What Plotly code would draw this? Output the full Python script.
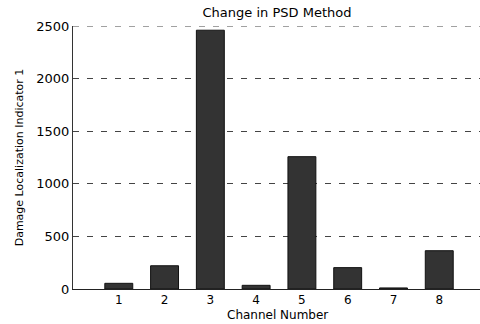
import plotly.graph_objects as go

# Damage localization indicator per channel (change in PSD method)
channels = [1, 2, 3, 4, 5, 6, 7, 8]
indicator = [54, 221, 2460, 35, 1258, 203, 10, 364]
y_ticks = [0, 500, 1000, 1500, 2000, 2500]

font_family = "DejaVu Sans, Liberation Sans, Arial, sans-serif"
grid_color = "#444444"
grid_dash = "6px,8px"

fig = go.Figure(
    go.Bar(
        x=channels,
        y=indicator,
        width=0.61,
        marker=dict(color="#333333", line=dict(color="#111111", width=1)),
    )
)

fig.update_layout(
    width=480,
    height=324,
    margin=dict(l=73, r=0, t=26, b=35),
    paper_bgcolor="white",
    plot_bgcolor="white",
    showlegend=False,
    font=dict(family=font_family, color="black", size=13),
    title=dict(
        text="Change in PSD Method",
        x=277 / 480,
        xref="container",
        xanchor="center",
        y=1 - 12 / 324,
        yref="container",
        yanchor="middle",
        font=dict(size=13, color="black"),
    ),
)

# dashed line along the top edge of the axes box
fig.add_shape(
    type="line",
    xref="paper",
    yref="y",
    x0=0,
    x1=1,
    y0=y_ticks[-1],
    y1=y_ticks[-1],
    line=dict(color=grid_color, width=1, dash=grid_dash),
    layer="below",
)

# x-axis title placed just under the tick labels
fig.add_annotation(
    text="Channel Number",
    xref="paper",
    yref="paper",
    x=(277 - 73) / (480 - 73),
    y=-26 / 263,
    xanchor="center",
    yanchor="middle",
    showarrow=False,
    font=dict(size=12, color="black"),
)

fig.update_xaxes(
    range=[0, 8.89],
    tickvals=channels,
    ticktext=[str(c) for c in channels],
    showgrid=False,
    zeroline=False,
    showline=True,
    linecolor="#222222",
    linewidth=1,
    ticks="",
    tickfont=dict(size=12),
    ticklabelstandoff=0,
)

fig.update_yaxes(
    range=[0, 2500],
    tickvals=y_ticks,
    ticktext=[str(v) for v in y_ticks],
    showgrid=True,
    gridcolor=grid_color,
    gridwidth=1,
    griddash=grid_dash,
    zeroline=False,
    showline=True,
    linecolor="#333333",
    linewidth=1,
    ticks="",
    tickfont=dict(size=13),
    title=dict(text="Damage Localization Indicator 1", font=dict(size=11), standoff=10),
)

fig.write_html("out.html")
